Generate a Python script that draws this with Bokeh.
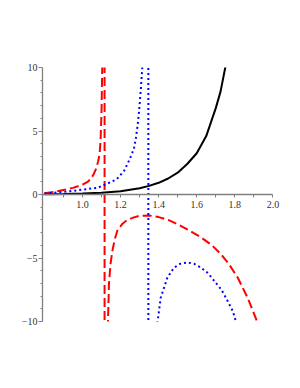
from bokeh.plotting import figure
from bokeh.models import FixedTicker, Range1d, AllLabels
from bokeh.embed import file_html
from bokeh.resources import INLINE

# black solid curve
black_x = [0.8, 0.9, 1.0, 1.1, 1.2, 1.3, 1.35, 1.4, 1.45, 1.5, 1.55, 1.6, 1.65, 1.7, 1.725,
           1.75, 1.76]
black_y = [0.02, 0.037, 0.07, 0.135, 0.26, 0.49, 0.68, 0.92, 1.26, 1.72, 2.4, 3.25, 4.6, 6.8,
           8.1, 10.0, 10.8]

# red dashed curve (left branch, jump across asymptote, right branch)
red_x = [0.8, 0.85, 0.9, 0.95, 1.0, 1.025, 1.045, 1.06, 1.072, 1.082, 1.09, 1.095, 1.1,
         1.104, 1.11, 1.116,
         1.116, 1.128, 1.134, 1.139, 1.147, 1.157, 1.17, 1.183, 1.21, 1.236, 1.27, 1.3, 1.35,
         1.4, 1.45, 1.5, 1.55, 1.622, 1.68, 1.727, 1.77, 1.815, 1.867, 1.92, 1.93]
red_y = [0.1, 0.2, 0.36, 0.52, 0.78, 0.97, 1.25, 1.64, 2.05, 2.6, 3.2, 4.3, 6.5,
         10.2, 25, 80,
         -80, -20, -10.05, -7.06, -5.5, -4.43, -3.5, -2.85, -2.3, -2.0, -1.8, -1.68, -1.65,
         -1.78, -2.0, -2.35, -2.75, -3.37, -4.0, -4.69, -5.5, -6.54, -8.12, -10.1, -10.6]

# blue dotted curve
blue_x = [0.8, 0.9, 1.0, 1.08, 1.13, 1.18, 1.22, 1.25, 1.27, 1.28, 1.29, 1.298, 1.306, 1.315,
          1.33, 1.346,
          1.346, 1.37, 1.385, 1.394, 1.411, 1.446, 1.481, 1.515, 1.552, 1.585, 1.622, 1.66,
          1.692, 1.73, 1.762, 1.79, 1.815]
blue_y = [0.08, 0.2, 0.38, 0.53, 0.85, 1.2, 1.9, 2.85, 3.6, 4.4, 5.5, 6.7, 8.2, 10.2,
          20, 80,
          -80, -20, -13, -10.05, -8.12, -6.54, -5.75, -5.45, -5.35, -5.45, -5.75, -6.2,
          -6.8, -7.5, -8.38, -9.2, -10.5]

x_major = [1.0, 1.2, 1.4, 1.6, 1.8, 2.0]
x_minor = [0.9, 1.1, 1.3, 1.5, 1.7, 1.9]
x_labels = {1.0: "1.0", 1.2: "1.2", 1.4: "1.4", 1.6: "1.6", 1.8: "1.8", 2.0: "2.0"}
y_major = [-10, -5, 0, 5, 10]
y_minor = [-9, -8, -7, -6, -4, -3, -2, -1, 1, 2, 3, 4, 6, 7, 8, 9]
y_labels = {-10: "\u221210", -5: "\u22125", 0: "0", 5: "5", 10: "10"}

p = figure(width=296, height=368, output_backend="svg", toolbar_location=None,
           x_range=Range1d(0.79, 2.04), y_range=Range1d(-10, 10),
           min_border_left=42, min_border_right=16, min_border_top=67, min_border_bottom=47)
p.frame_width = 238
p.frame_height = 254
p.grid.visible = False
p.outline_line_color = None
p.background_fill_color = "white"

p.line(red_x, red_y, line_color="#ff0000", line_width=2, line_dash="9 4")
p.line(blue_x, blue_y, line_color="#0000ff", line_width=2, line_dash="2 3")
p.line(black_x, black_y, line_color="black", line_width=2)

axis_color = "#808080"
label_color = "#333333"
for ax in (p.xaxis[0], p.yaxis[0]):
    ax.axis_line_color = axis_color
    ax.axis_line_width = 1.3
    ax.major_tick_line_color = axis_color
    ax.minor_tick_line_color = axis_color
    ax.major_tick_in = 0
    ax.minor_tick_in = 0
    ax.major_label_text_font = "Liberation Serif"
    ax.major_label_text_font_size = "10px"
    ax.major_label_text_color = label_color
    ax.major_label_policy = AllLabels()

xa = p.xaxis[0]
xa.fixed_location = 0
xa.bounds = (0.79, 2.0)
xa.ticker = FixedTicker(ticks=x_major, minor_ticks=x_minor)
xa.major_label_overrides = x_labels
xa.major_tick_out = 3
xa.minor_tick_out = 3
xa.major_label_standoff = 3

ya = p.yaxis[0]
ya.ticker = FixedTicker(ticks=y_major, minor_ticks=y_minor)
ya.major_label_overrides = y_labels
ya.major_tick_out = 4
ya.minor_tick_out = 2
ya.major_label_standoff = 1

open("out.html", "w").write(file_html(p, INLINE))
